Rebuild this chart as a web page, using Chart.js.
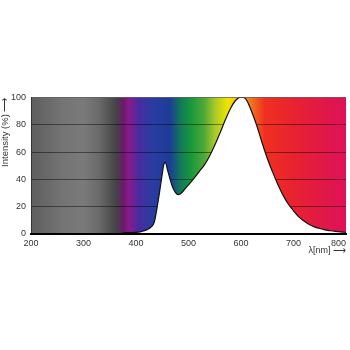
<!DOCTYPE html>
<html><head><meta charset="utf-8">
<script src="https://cdn.jsdelivr.net/npm/chart.js@4"></script>
<style>html,body{margin:0;padding:0;background:#fff}#wrap{width:350px;height:350px;position:relative}</style>
</head><body><div id="wrap"><canvas id="c"></canvas></div>
<script>
const wavelengths = [200,370,375,380,390,400,410,420,430,435,440,445,450,453,456,460,465,470,475,480,485,490,500,510,520,530,540,550,560,570,580,590,598,604,610,620,630,640,650,660,670,680,690,700,710,720,730,740,750,760,770,780,790,800];
const intensity   = [0,  0,  0.8,1,  1,  1.2,1.8,3,  5.5,9,  19, 31, 44, 51, 52.5,47, 40, 34, 30.5,28.8,29.5,31.5,36,40.5,45.5,50.5,57, 65, 74, 83.5,92, 98, 100,100,98.5,90, 79.5,67, 55.5,45.5,36.5,28.5,22,17, 12.5,9.5,7,  5.2,4,  3,  2.4,1.9,1.5,1.2];
const xTickValues = [200,300,400,500,600,700,800];
const yTickValues = [0,20,40,60,80,100];
const xAxisLabel = 'λ[nm] ⟶';
const yAxisLabel = 'Intensity (%) ⟶';
const spectrumWavelengths = [200,260,300,330,362,376,386,405,430,465,485,505,530,550,575,590,615,645,700,760,800];
const spectrumColours = ['#5e5e5e','#747474','#7a7a7a','#6a6a6a','#444444','#6a1a6a','#8a1a8a','#4a2aa0','#2a3ca0','#1e3c98','#107a58','#18983c','#50a838','#a8c828','#f0e400','#f8c800','#f08020','#f03020','#e82230','#e01848','#e0105a'];

const spectrumBg = {
  id: 'spectrumBg',
  beforeDraw(chart) {
    const {ctx, chartArea: a, scales: {x}} = chart;
    const g = ctx.createLinearGradient(a.left, 0, a.right, 0);
    spectrumWavelengths.forEach((l, i) => {
      const f = (x.getPixelForValue(l) - a.left) / (a.right - a.left);
      g.addColorStop(Math.min(1, Math.max(0, f)), spectrumColours[i]);
    });
    ctx.save();
    ctx.fillStyle = g;
    ctx.fillRect(a.left, a.top, a.right - a.left, a.bottom - a.top);
    ctx.restore();
  }
};

const font = {family: '"Liberation Sans", Arial, sans-serif', size: 9};
const lastX = xTickValues[xTickValues.length - 1];

new Chart(document.getElementById('c'), {
  type: 'line',
  data: {
    datasets: [{
      data: wavelengths.map((w, i) => ({x: w, y: intensity[i]})),
      borderColor: '#111',
      borderWidth: 1.2,
      backgroundColor: '#ffffff',
      fill: 'origin',
      pointRadius: 0,
      cubicInterpolationMode: 'monotone'
    }]
  },
  options: {
    responsive: true,
    maintainAspectRatio: false,
    animation: false,
    layout: {padding: {top: 97.5, right: 4, left: 0, bottom: 93.6}},
    plugins: {legend: {display: false}, tooltip: {enabled: false}},
    scales: {
      x: {
        type: 'linear', min: 200, max: 800,
        afterBuildTicks: s => { s.ticks = xTickValues.map(v => ({value: v})); },
        afterFit: s => { s.height = 22.4; s.paddingLeft = 0; s.paddingRight = 0; },
        grid: {display: false, drawTicks: false},
        border: {display: true, color: '#000', width: 2, z: 1},
        ticks: {font, color: '#333', padding: 4, maxRotation: 0, autoSkip: false,
          callback: v => v === lastX ? String(v) + '      ' : String(v)},
        title: {display: true, text: xAxisLabel, align: 'end', font, color: '#333', padding: 0}
      },
      y: {
        min: 0, max: 100,
        afterBuildTicks: s => { s.ticks = yTickValues.map(v => ({value: v})); },
        afterFit: s => { s.width = 31; },
        grid: {color: 'rgba(0,0,0,0.45)', lineWidth: 1, drawTicks: false},
        border: {display: true, color: '#333', width: 1},
        ticks: {font, color: '#333', padding: 5},
        title: {display: true, text: yAxisLabel, align: 'end', font: {...font, size: 9.5}, color: '#333', padding: 0}
      }
    }
  },
  plugins: [spectrumBg]
});
</script></body></html>
